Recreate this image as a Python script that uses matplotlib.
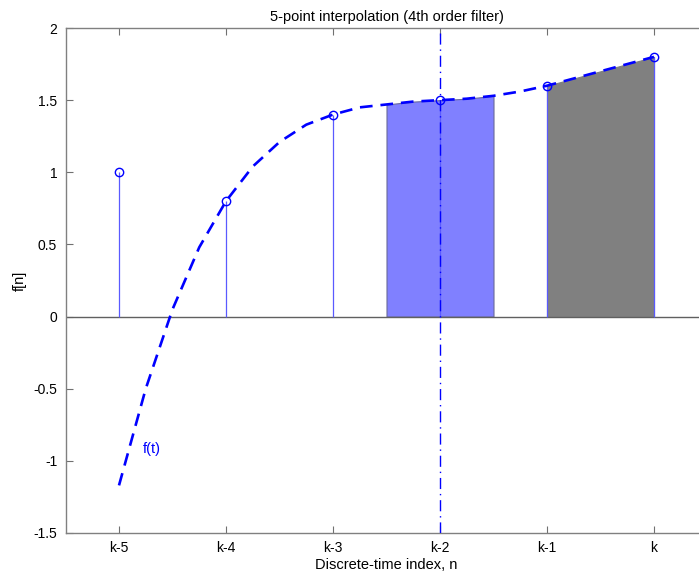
import matplotlib
matplotlib.use("Agg")
import matplotlib.pyplot as plt
import numpy as np

plt.rcParams['font.family'] = ['Liberation Sans', 'DejaVu Sans']

# Data
n_idx = [-5, -4, -3, -2, -1, 0]
f_n = [1.0, 0.8, 1.4, 1.5, 1.6, 1.8]
tick_labels = ['k-5', 'k-4', 'k-3', 'k-2', 'k-1', 'k']
curve_t = [-5, -4.75, -4.5, -4.25, -4, -3.75, -3.5, -3.25, -3, -2.75, -2.5,
           -2.25, -2, -1.75, -1.5, -1.25, -1, -0.75, -0.5, -0.25, 0]
curve_y = [-1.17, -0.50, 0.05, 0.48, 0.80, 1.04, 1.21, 1.33, 1.40, 1.45, 1.47,
           1.49, 1.50, 1.51, 1.53, 1.56, 1.60, 1.65, 1.70, 1.75, 1.80]
blue_span = (-2.5, -1.5)
gray_span = (-1, 0)
center_n = -2

fig = plt.figure(figsize=(6.99, 5.74), dpi=100)
ax = fig.add_axes([65.5 / 699, 41 / 574, 642 / 699, 505 / 574])

ct = np.array(curve_t)
cy = np.array(curve_y)

m = (ct >= blue_span[0]) & (ct <= blue_span[1])
ax.fill_between(ct[m], 0, cy[m], facecolor='#8080ff', edgecolor='#6a6a9a',
                linewidth=0.8, zorder=1)
m = (ct >= gray_span[0]) & (ct <= gray_span[1])
ax.fill_between(ct[m], 0, cy[m], facecolor='#808080', edgecolor='#808080',
                linewidth=0.8, zorder=1)

ax.axhline(0, color='#606060', linewidth=1.0, zorder=2)

ax.vlines(n_idx, 0, f_n, colors='#5a5aff', linewidth=0.9, zorder=3)
ax.plot(n_idx, f_n, 'o', markersize=6, markerfacecolor='none',
        markeredgecolor='blue', markeredgewidth=1.0, zorder=5)

ax.plot(curve_t, curve_y, color='blue', linewidth=1.9, dashes=(4.8, 3), zorder=4)

ax.axvline(center_n, color='blue', linewidth=1.0, dashes=(8, 3.5, 1, 3.5), zorder=4)

ax.text(-4.78, -0.92, 'f(t)', color='blue', fontsize=10.5, va='center', ha='left')

ax.set_xlim(-5.5, 0.5)
ax.set_ylim(-1.5, 2)
ax.set_xticks(n_idx)
ax.set_xticklabels(tick_labels)
ax.set_yticks([-1.5, -1, -0.5, 0, 0.5, 1, 1.5, 2])
ax.set_yticklabels(['-1.5', '-1', '-0.5', '0', '0.5', '1', '1.5', '2'])
ax.tick_params(direction='in', length=5, width=0.8, color='#707070',
               labelsize=10, top=True, right=True, pad=6)
for s in ax.spines.values():
    s.set_color('#808080')
    s.set_linewidth(1.0)

ax.set_title('5-point interpolation (4th order filter)', fontsize=10.5, pad=5)
ax.set_xlabel('Discrete-time index, n', fontsize=10.5, labelpad=2)
ax.set_ylabel('f[n]', fontsize=10.5, labelpad=5)

fig.savefig('out.png', dpi=100)
